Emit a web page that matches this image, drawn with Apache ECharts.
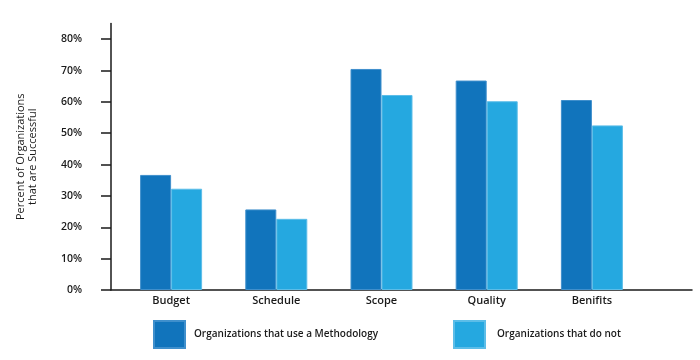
<!DOCTYPE html>
<html><head><meta charset="utf-8">
<script src="https://cdn.jsdelivr.net/npm/echarts@6/dist/echarts.min.js"></script>
<style>html,body{margin:0;padding:0;background:#fff}#c{width:700px;height:360px}</style>
</head><body><div id="c"></div>
<script>
const categories = ['Budget', 'Schedule', 'Scope', 'Quality', 'Benifits'];
const withMethodology = [36.7, 25.7, 70.5, 66.8, 60.6];
const withoutMethodology = [32.3, 22.7, 62.2, 60.2, 52.5];
const yTicks = [0, 10, 20, 30, 40, 50, 60, 70, 80];
const seriesNames = ['Organizations that use a Methodology', 'Organizations that do not'];
const yAxisName = 'Percent of Organizations\nthat are Successful';

const FONT = '"Open Sans", sans-serif';
const INK = '#1a1a1a';
const chart = echarts.init(document.getElementById('c'), null, {renderer: 'canvas'});
chart.setOption({
  animation: false,
  backgroundColor: '#ffffff',
  textStyle: {fontFamily: FONT},
  grid: [
    {left: 118.5, right: 55.5, top: 23.5, bottom: 70},
    {left: 111, right: 8, top: 23.5, bottom: 70}
  ],
  xAxis: [
    {type: 'category', gridIndex: 0, data: categories,
     axisLine: {show: false}, axisTick: {show: false},
     axisLabel: {margin: 5, color: INK, fontFamily: FONT, fontWeight: 600, fontSize: 11}},
    {type: 'value', gridIndex: 1, min: 0, max: 1,
     axisLine: {show: true, onZero: false, lineStyle: {color: INK, width: 1.5}},
     axisTick: {show: false}, axisLabel: {show: false}, splitLine: {show: false}}
  ],
  yAxis: [
    {type: 'value', gridIndex: 0, min: 0, max: 85, show: false, splitLine: {show: false}},
    {type: 'value', gridIndex: 1, min: 0, max: 85,
     name: yAxisName, nameLocation: 'middle', nameGap: 72,
     nameTextStyle: {color: INK, fontFamily: FONT, fontWeight: 500, fontSize: 11, lineHeight: 12},
     axisLine: {show: true, lineStyle: {color: INK, width: 1.5}},
     axisTick: {show: true, length: 10, inside: false, customValues: yTicks,
                lineStyle: {color: INK, width: 1.5}},
     axisLabel: {customValues: yTicks, margin: 29, formatter: '{value}%',
                 color: INK, fontFamily: FONT, fontWeight: 600, fontSize: 10.5},
     splitLine: {show: false}}
  ],
  legend: [
    {left: 153, top: 320, padding: 0, itemWidth: 31, itemHeight: 27, icon: 'rect',
     data: [seriesNames[0]],
     textStyle: {color: INK, fontFamily: FONT, fontWeight: 600, fontSize: 10, padding: [0, 0, 0, 4]}},
    {left: 453, top: 320, padding: 0, itemWidth: 31, itemHeight: 27, icon: 'rect',
     data: [seriesNames[1]],
     textStyle: {color: INK, fontFamily: FONT, fontWeight: 600, fontSize: 10, padding: [0, 0, 0, 7]}}
  ],
  series: [
    {name: seriesNames[0], type: 'bar', xAxisIndex: 0, yAxisIndex: 0,
     data: withMethodology, barWidth: 31, barGap: '0%',
     itemStyle: {color: '#1174bc', borderColor: '#3f8fcc', borderWidth: 1}},
    {name: seriesNames[1], type: 'bar', xAxisIndex: 0, yAxisIndex: 0,
     data: withoutMethodology, barWidth: 31, barGap: '0%',
     itemStyle: {color: '#25a8e0', borderColor: '#5cbde8', borderWidth: 1}}
  ]
});
</script></body></html>
